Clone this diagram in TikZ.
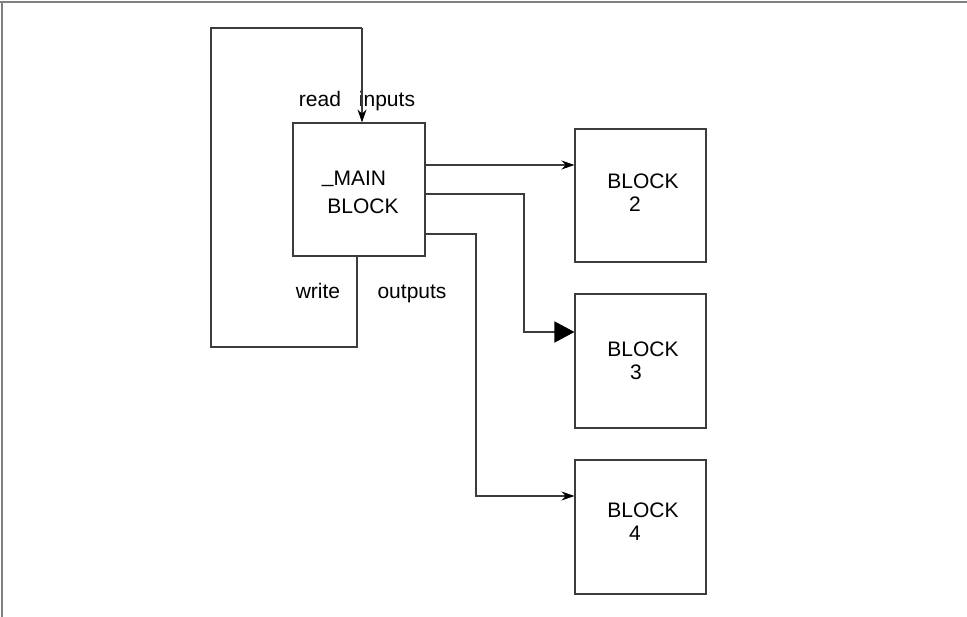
\documentclass[tikz,border=0pt]{standalone}
\usepackage{fontspec}
\setmainfont{Liberation Sans}
\usetikzlibrary{arrows.meta}
\begin{document}
\begin{tikzpicture}[x=1pt,y=-1pt,
  ln/.style={draw={rgb,255:red,60;green,60;blue,60},line width=1.1pt},
  blockbox/.style={ln,rectangle,inner sep=0pt,minimum width=131pt,minimum height=133pt},
  txt/.style={anchor=base,inner sep=0pt,font=\fontsize{21}{25}\selectfont},
  smallarr/.style={ln,-{Stealth[length=13pt,width=9pt,color=black]}},
  bigarr/.style={ln,line width=1.6pt,-{Triangle[length=20pt,width=21pt,color=black]}}
]
\useasboundingbox (0,0) rectangle (967,617);
% frame
\draw[ln,draw=gray] (0,2) -- (967,2);
\draw[ln,draw=gray] (2,2) -- (2,617);
% blocks
\node[blockbox,minimum width=132pt] (main) at (359,189.5) {};
\node[blockbox] (b2) at (640.5,195.5) {};
\node[blockbox,minimum height=134pt] (b3) at (640.5,361) {};
\node[blockbox,minimum height=134pt] (b4) at (640.5,527) {};
% texts
\node[txt] (tread) at (320,107) {read};
\node[txt] (tinputs) at (387,107) {inputs};
\node[txt] (tmain) at (354,186) {\raisebox{0.15em}{\char95}MAIN};
\node[txt] (tblock) at (363,214) {BLOCK};
\node[txt] (twrite) at (318,299) {write};
\node[txt] (toutputs) at (412,299) {outputs};
\node[txt] (b2a) at (643,189) {BLOCK};
\node[txt] (b2b) at (635,212) {2};
\node[txt] (b3a) at (643,357) {BLOCK};
\node[txt] (b3b) at (636,380) {3};
\node[txt] (b4a) at (643,518) {BLOCK};
\node[txt] (b4b) at (635,540) {4};
% loop
\coordinate (l1) at (357,347);
\coordinate (l2) at (211,347);
\coordinate (l3) at (211,28);
\coordinate (l4) at (362,28);
\draw[ln] (main.south -| l1) -- (l1) -- (l2) -- (l3) -- (l4);
\draw[smallarr] (l4) -- (main.north -| l4);
% outputs
\coordinate (o1) at (0,165);
\draw[smallarr] (main.east |- o1) -- (b2.west |- o1);
\coordinate (o2a) at (524,194);
\coordinate (o2b) at (524,332);
\draw[bigarr] (main.east |- o2a) -- (o2a) -- (o2b) -- (b3.west |- o2b);
\coordinate (o3a) at (476,234);
\coordinate (o3b) at (476,496);
\draw[smallarr] (main.east |- o3a) -- (o3a) -- (o3b) -- (b4.west |- o3b);
\end{tikzpicture}
\end{document}
